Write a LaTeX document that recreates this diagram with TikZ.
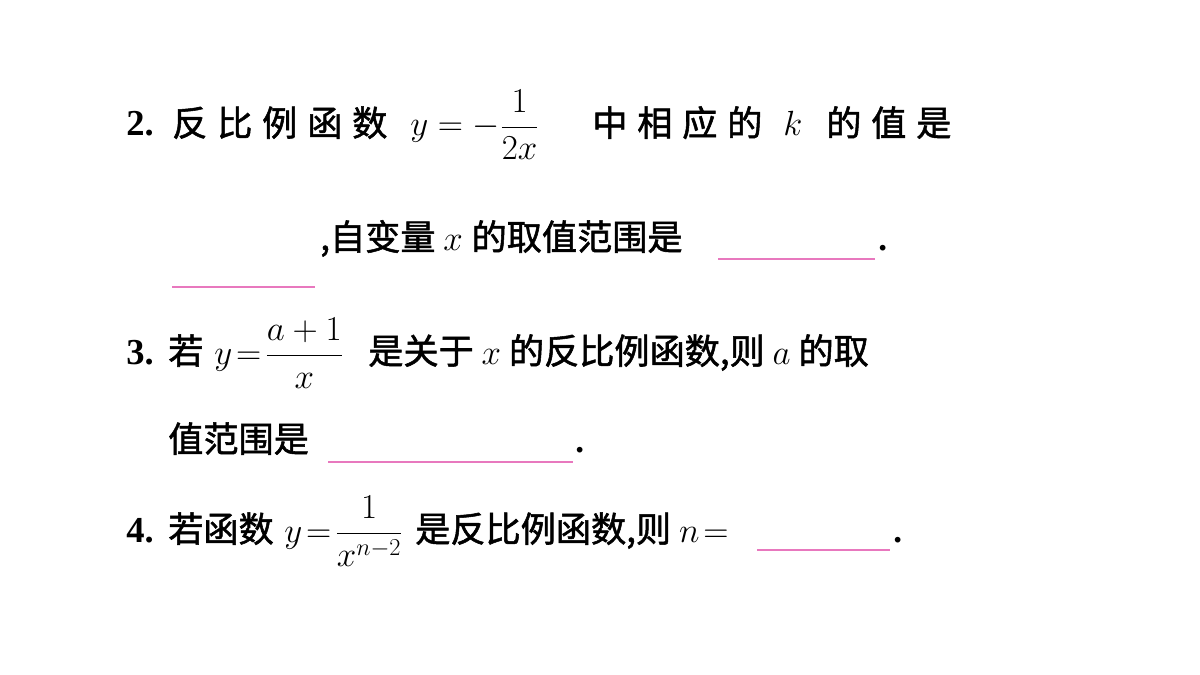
\documentclass[tikz,border=0pt]{standalone}
\usepackage{amsmath}
\usepackage{fontspec}
\setmainfont{Liberation Serif}
\newfontfamily\cjk{Noto Sans CJK SC}[FakeBold=1.5]
\usetikzlibrary{positioning}
\definecolor{blankpink}{RGB}{232,120,190}
\newcommand{\gap}{\hspace{0.28em}}

\begin{document}
\begin{tikzpicture}[
    x=0.025cm, y=-0.025cm,
    txt/.style={anchor=base west, inner sep=0pt, font=\fontsize{25}{29}\selectfont},
    num/.style={txt, font=\fontsize{26}{29}\selectfont\bfseries},
    blank/.style={draw=blankpink, line width=0.8pt},
]
    \useasboundingbox (0,0) rectangle (1200,675);

    % question 2
    \node[num] (q2) at (126,136) {2.};
    \node[txt] (q2a) at (172,136) {\cjk 反\gap 比\gap 例\gap 函\gap 数};
    \node[txt] (q2f) at (410,136) {$y=-\dfrac{1}{2x}$};
    \node[txt] (q2b) at (592,136) {\cjk 中\gap 相\gap 应\gap 的};
    \node[txt] (q2k) at (783,136) {$k$};
    \node[txt] (q2c) at (826,136) {\cjk 的\gap 值\gap 是};
    \node[txt] (q2d) at (320,250) {\cjk ,自变量 \rmfamily$x$ \cjk 的取值范围是};
    \coordinate (b1s) at (718,259);
    \coordinate (b1e) at (875,259);
    \draw[blank] (b1s) -- (b1e);
    \node[txt] (q2e) at (878,250) {\textbf{.}};
    \coordinate (b2s) at (172,287);
    \coordinate (b2e) at (315,287);
    \draw[blank] (b2s) -- (b2e);

    % question 3
    \node[num] (q3) at (126,364) {3.};
    \node[txt] (q3a) at (168,364) {\cjk 若};
    \node[txt] (q3f) at (214,364) {$y\!=\!\dfrac{a+1}{x}$};
    \node[txt] (q3b) at (368,364) {\cjk 是关于 \rmfamily$x$\cjk\ 的反比例函数,则 \rmfamily$a$\cjk\ 的取};
    \node[txt] (q3c) at (168,452) {\cjk 值范围是};
    \coordinate (b3s) at (328,462);
    \coordinate (b3e) at (573,462);
    \draw[blank] (b3s) -- (b3e);
    \node[txt] (q3d) at (575,452) {\textbf{.}};

    % question 4
    \node[num] (q4) at (126,542) {4.};
    \node[txt] (q4a) at (168,542) {\cjk 若函数};
    \node[txt] (q4f) at (284,542) {$y\!=\!\dfrac{1}{x^{n-2}}$};
    \node[txt] (q4b) at (415,542) {\cjk 是反比例函数,则 \rmfamily$n\!=$};
    \coordinate (b4s) at (757,550);
    \coordinate (b4e) at (890,550);
    \draw[blank] (b4s) -- (b4e);
    \node[txt] (q4c) at (893,542) {\textbf{.}};
\end{tikzpicture}
\end{document}
